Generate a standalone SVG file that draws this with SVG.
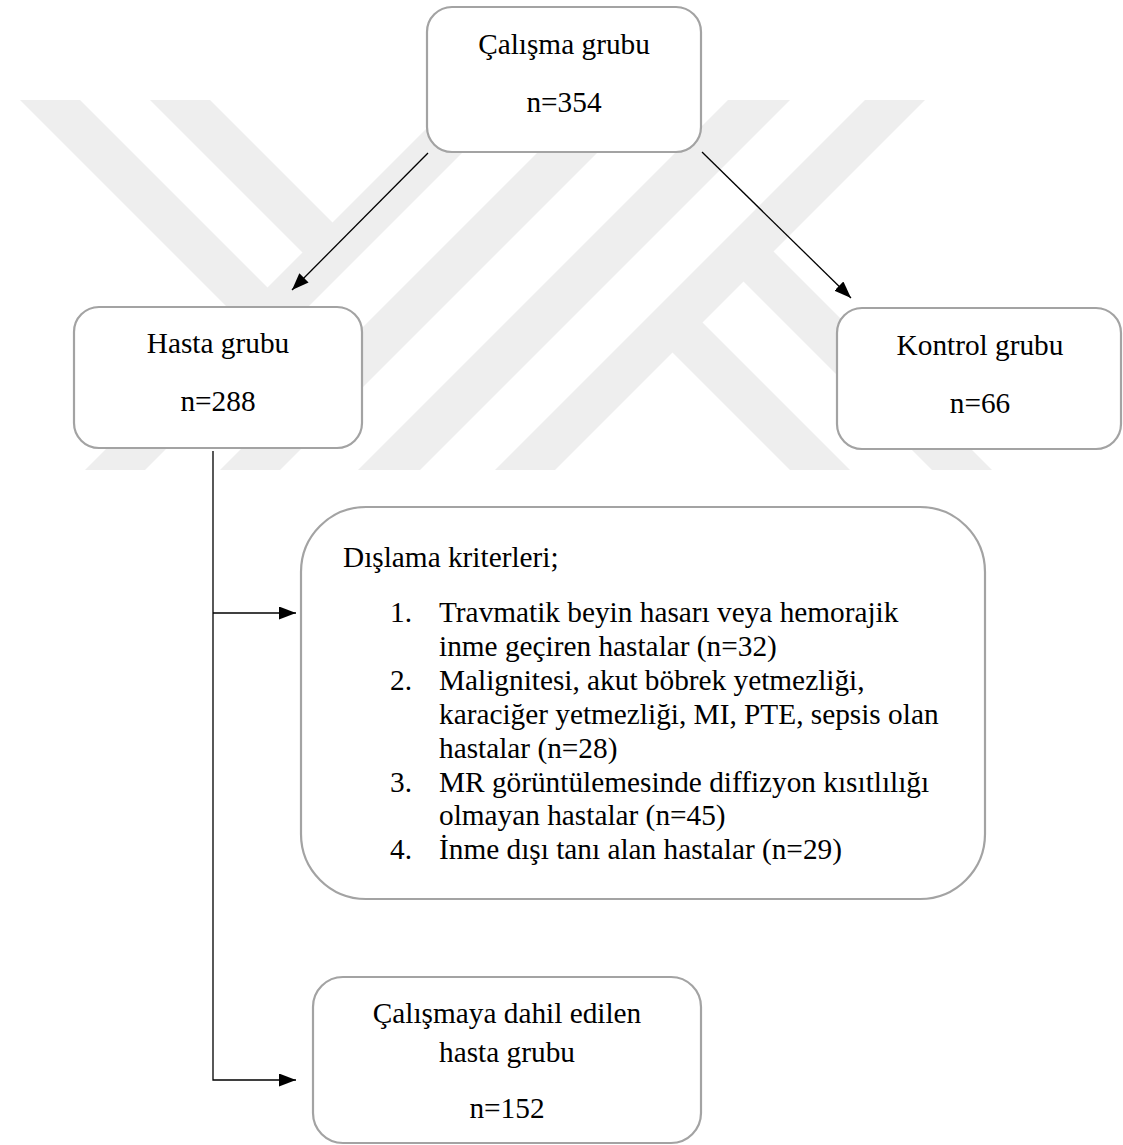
<svg xmlns="http://www.w3.org/2000/svg" width="1123" height="1145" viewBox="0 0 1123 1145">
  <defs>
    <style>
      .box { fill: #ffffff; stroke: #a3a3a3; stroke-width: 2.2; }
      .t { font-family: "Liberation Serif", "Times New Roman", serif; font-size: 29.3px; fill: #000000; }
      .c { text-anchor: middle; }
      .conn { fill: none; stroke: #000000; stroke-width: 1.3; }
      .wm { fill: #eeeeee; stroke: none; }
    </style>
    <marker id="arrow" markerUnits="userSpaceOnUse" markerWidth="17" markerHeight="13" viewBox="0 0 17 13" refX="17" refY="6.5" orient="auto">
      <path d="M0,0 L17,6.5 L0,13 z" fill="#000000"/>
    </marker>
  </defs>
  <rect width="1123" height="1145" fill="#ffffff"/>

  <g id="watermark">
    <!-- "/" stripes -->
    <polygon class="wm" points="455,100 515,100 145,470 85,470"/>
    <polygon class="wm" points="590,100 650,100 280,470 220,470"/>
    <polygon class="wm" points="728,100 790,100 420,470 358,470"/>
    <polygon class="wm" points="865,100 925,100 555,470 495,470"/>
    <!-- left "\" stripes -->
    <polygon class="wm" points="20,100 80,100 295,315 265,345"/>
    <polygon class="wm" points="150,100 210,100 347.5,237.5 317.5,267.5"/>
    <!-- right "\" stripes -->
    <polygon class="wm" points="655,335 685,305 850,470 790,470"/>
    <polygon class="wm" points="726,264 756,234 992,470 932,470"/>
  </g>

  <g id="connectors">
    <line class="conn" x1="428" y1="153" x2="292" y2="290" marker-end="url(#arrow)"/>
    <line class="conn" x1="702" y1="152" x2="851" y2="298" marker-end="url(#arrow)"/>
    <path class="conn" d="M213,451 V1080 H296" marker-end="url(#arrow)"/>
    <line class="conn" x1="213" y1="613" x2="296" y2="613" marker-end="url(#arrow)"/>
  </g>

  <g id="calisma">
    <rect class="box" x="427" y="7" width="274" height="145" rx="25" ry="25"/>
    <text class="t c" x="564" y="54">Çalışma grubu</text>
    <text class="t c" x="564" y="112">n=354</text>
  </g>

  <g id="hasta">
    <rect class="box" x="74" y="307" width="288" height="141" rx="25" ry="25"/>
    <text class="t c" x="218" y="353">Hasta grubu</text>
    <text class="t c" x="218" y="411">n=288</text>
  </g>

  <g id="kontrol">
    <rect class="box" x="837" y="308" width="284" height="141" rx="25" ry="25"/>
    <text class="t c" x="980" y="355">Kontrol grubu</text>
    <text class="t c" x="980" y="413">n=66</text>
  </g>

  <g id="dislama">
    <rect class="box" x="301" y="507" width="684" height="392" rx="65" ry="65"/>
    <text class="t" x="343" y="567">Dışlama kriterleri;</text>
    <text class="t" x="390" y="622">1.</text>
    <text class="t" x="439" y="622">Travmatik beyin hasarı veya hemorajik</text>
    <text class="t" x="439" y="656">inme geçiren hastalar (n=32)</text>
    <text class="t" x="390" y="690">2.</text>
    <text class="t" x="439" y="690">Malignitesi, akut böbrek yetmezliği,</text>
    <text class="t" x="439" y="724">karaciğer yetmezliği, MI, PTE, sepsis olan</text>
    <text class="t" x="439" y="758">hastalar (n=28)</text>
    <text class="t" x="390" y="792">3.</text>
    <text class="t" x="439" y="792">MR görüntülemesinde diffizyon kısıtlılığı</text>
    <text class="t" x="439" y="825">olmayan hastalar (n=45)</text>
    <text class="t" x="390" y="859">4.</text>
    <text class="t" x="439" y="859">İnme dışı tanı alan hastalar (n=29)</text>
  </g>

  <g id="dahil">
    <rect class="box" x="313" y="977" width="388" height="166" rx="30" ry="30"/>
    <text class="t c" x="507" y="1023">Çalışmaya dahil edilen</text>
    <text class="t c" x="507" y="1062">hasta grubu</text>
    <text class="t c" x="507" y="1118">n=152</text>
  </g>
</svg>
